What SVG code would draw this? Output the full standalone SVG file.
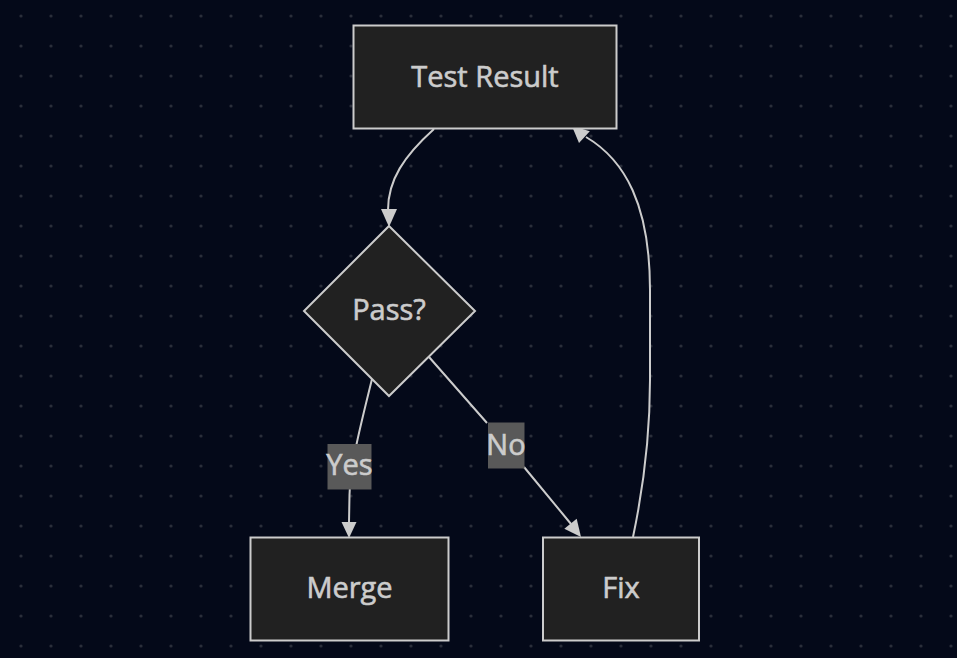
<svg xmlns="http://www.w3.org/2000/svg" width="957" height="658" viewBox="0 0 957 658">
<style>
.node rect,.node polygon{fill:#212121;stroke:#cccccc;stroke-width:2}
.node text,.lbl text{font-family:"Open Sans","Liberation Sans",sans-serif;font-size:29px;fill:#cccccc;stroke:#cccccc;stroke-width:0.6;text-anchor:middle}
.edge{fill:none;stroke:#cccccc;stroke-width:2}
.head{fill:#cccccc;stroke:none}
.lbl rect{fill:#595959;stroke:none}
</style>
<defs>
<pattern id="dots" x="6" y="1" width="30" height="30" patternUnits="userSpaceOnUse">
<circle cx="15" cy="15" r="1.6" fill="#2a2e3a"/>
</pattern>
</defs>
<rect width="957" height="658" fill="#040919"/>
<rect width="957" height="658" fill="url(#dots)"/>
<g id="connectors">
<path class="edge" d="M434,129 C404,156 388,180 388,210"/>
<polygon class="head" points="389,227 381,209 397,209"/>
<path class="edge" d="M372,379 C362,420 350,465 349.5,495 L349,523"/>
<polygon class="head" points="349,538 341.5,522 356.5,522"/>
<path class="edge" d="M429,357 L487,423 M524,467 L571,524"/>
<polygon class="head" points="581,537 564.3,528.7 576.7,518.7"/>
<path class="edge" d="M633,537 C645,480 650,430 650,380 L650,290 C650,205 625,160 586,137"/>
<polygon class="head" points="571.8,125.7 589.8,131.2 579,143"/>
</g>
<g id="edge-label-yes" class="lbl">
<rect x="327.5" y="444" width="44" height="45.5"/>
<text x="349.5" y="475">Yes</text>
</g>
<g id="edge-label-no" class="lbl">
<rect x="488" y="422.5" width="36.5" height="46"/>
<text x="506" y="455">No</text>
</g>
<g id="node-test-result" class="node">
<rect x="353.5" y="25.5" width="263" height="103"/>
<text x="485" y="87">Test Result</text>
</g>
<g id="node-pass" class="node">
<polygon points="389,226 475,311 389,396 304,311"/>
<text x="389" y="320">Pass?</text>
</g>
<g id="node-merge" class="node">
<rect x="250.5" y="537.5" width="198" height="103"/>
<text x="349.5" y="598">Merge</text>
</g>
<g id="node-fix" class="node">
<rect x="543" y="537.5" width="156" height="103"/>
<text x="621" y="598">Fix</text>
</g>
</svg>
